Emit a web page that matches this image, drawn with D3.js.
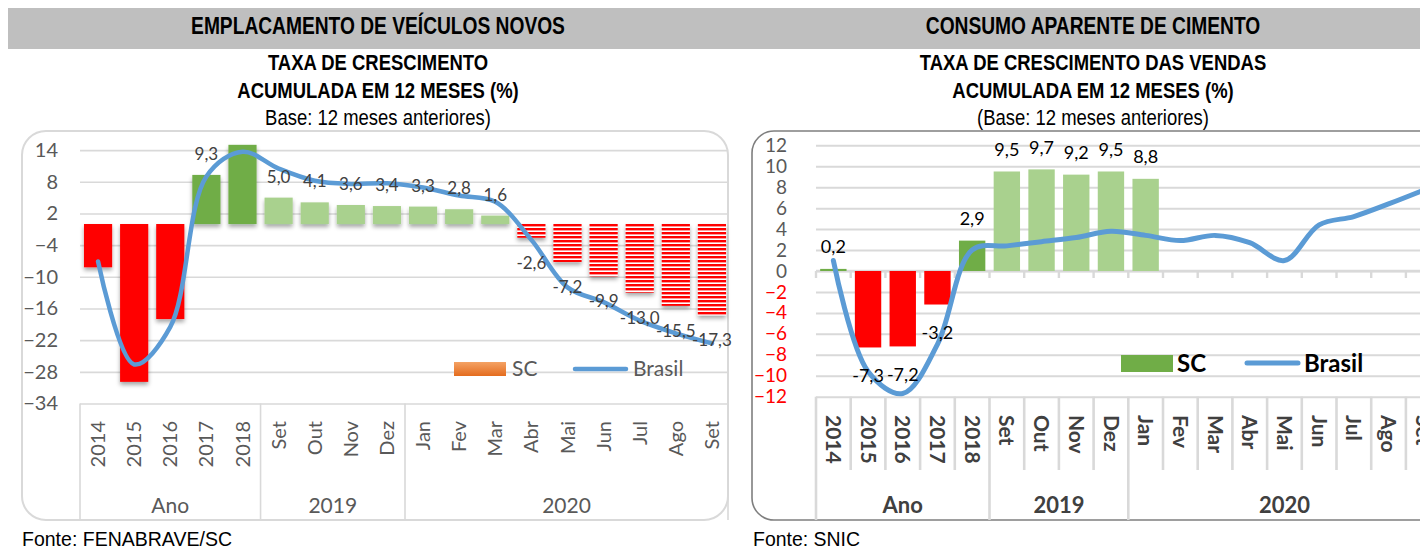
<!DOCTYPE html>
<html>
<head>
<meta charset="utf-8">
<script src="https://cdn.jsdelivr.net/npm/d3@7"></script>
<style>
    body { margin: 0; background: #fff; }
    svg { display: block; }
</style>
</head>
<body>
<svg id="chart" width="1420" height="549"></svg>
<script>
// Categories (same axis on both charts)
const categories = ["2014", "2015", "2016", "2017", "2018", "Set", "Out", "Nov", "Dez",
    "Jan", "Fev", "Mar", "Abr", "Mai", "Jun", "Jul", "Ago", "Set"];
const groupLabels = ["Ano", "2019", "2020"];
const groupSizes = [5, 4, 9];

// Emplacamento de veículos novos - SC (bars) and Brasil (line)
const vehSC = [-8.2, -29.9, -18.0, 9.3, 15.0, 5.0, 4.1, 3.6, 3.4, 3.3, 2.8, 1.6,
    -2.6, -7.2, -9.9, -13.0, -15.5, -17.3];
const vehLabels = [null, null, null, 9.3, null, 5.0, 4.1, 3.6, 3.4, 3.3, 2.8, 1.6,
    -2.6, -7.2, -9.9, -13.0, -15.5, -17.3];
const vehBrasil = [-7.1, -26.6, -19.5, 9.0, 13.7, 10.5, 8.2, 7.6, 7.7, 6.9, 5.4, 4.2,
    -3.0, -12.0, -14.8, -18.3, -20.7, -22.6];
const vehTicks = d3.range(-34, 15, 6);

// Consumo aparente de cimento - SC (bars) and Brasil (line)
const cimSC = [0.2, -7.3, -7.2, -3.2, 2.9, 9.5, 9.7, 9.2, 9.5, 8.8];
const cimBrasil = [1.0, -9.6, -11.7, -7.0, 2.0, 2.4, 2.8, 3.2, 3.8, 3.4, 2.9, 3.4,
    2.7, 1.0, 4.4, 5.2, 6.4, 7.7];
const cimTicks = d3.range(-12, 13, 2);

const svg = d3.select("#chart");
const BODY = "Lato, 'Open Sans', sans-serif";
const TITLE = "'Liberation Sans', Arial, sans-serif";

const fmt = v => d3.format(".1f")(v).replace(".", ",").replace("\u2212", "-");

// group of each category index
const groupOf = [];
groupSizes.forEach((n, g) => { for (let k = 0; k < n; k++) groupOf.push(g); });
const groupStart = d3.cumsum([0].concat(groupSizes));

// defs: hatch pattern, shadow, legend gradient
const defs = svg.append("defs");
const hatch = defs.append("pattern")
    .attr("id", "hatch")
    .attr("patternUnits", "userSpaceOnUse")
    .attr("width", 8).attr("height", 4);
hatch.append("rect").attr("width", 8).attr("height", 4).attr("fill", "#fff");
hatch.append("rect").attr("width", 8).attr("height", 2.4).attr("fill", "#ff0000");

defs.append("filter").attr("id", "shadow")
    .attr("x", "-20%").attr("y", "-20%").attr("width", "140%").attr("height", "140%")
    .append("feDropShadow")
    .attr("dx", 0).attr("dy", 3).attr("stdDeviation", 2)
    .attr("flood-color", "#000").attr("flood-opacity", 0.35);

let grad = defs.append("linearGradient").attr("id", "orange")
    .attr("x1", 0).attr("y1", 0).attr("x2", 0).attr("y2", 1);
grad.append("stop").attr("offset", "0%").attr("stop-color", "#f4a264");
grad.append("stop").attr("offset", "100%").attr("stop-color", "#e46c1e");

// Top banner
svg.append("rect")
    .attr("x", 8).attr("y", 8).attr("width", 1412).attr("height", 41)
    .attr("fill", "#bfbfbf");

// Arial Narrow look: Liberation Sans squeezed horizontally
function narrowText(x, y, txt, size, weight, sx) {
    svg.append("g")
        .attr("transform", "translate(" + x + "," + y + ") scale(" + sx + ",1)")
        .append("text")
        .attr("text-anchor", "middle")
        .style("font-family", TITLE)
        .style("font-size", size + "px")
        .style("font-weight", weight)
        .attr("fill", "#000")
        .text(txt);
}

// Titles
narrowText(378, 34, "EMPLACAMENTO DE VEÍCULOS NOVOS", 24, "bold", 0.8);
narrowText(378, 70, "TAXA DE CRESCIMENTO", 22, "bold", 0.84);
narrowText(378, 98, "ACUMULADA EM 12 MESES (%)", 22, "bold", 0.84);
narrowText(378, 125, "Base: 12 meses anteriores)", 22, "normal", 0.84);

narrowText(1093, 34, "CONSUMO APARENTE DE CIMENTO", 24, "bold", 0.8);
narrowText(1093, 70, "TAXA DE CRESCIMENTO DAS VENDAS", 22, "bold", 0.84);
narrowText(1093, 98, "ACUMULADA EM 12 MESES (%)", 22, "bold", 0.84);
narrowText(1093, 125, "(Base: 12 meses anteriores)", 22, "normal", 0.84);

// Sources
svg.append("text").attr("x", 22).attr("y", 546)
    .attr("textLength", 210).attr("lengthAdjust", "spacingAndGlyphs")
    .style("font-family", TITLE).style("font-size", "21px")
    .text("Fonte: FENABRAVE/SC");
svg.append("text").attr("x", 753).attr("y", 546)
    .attr("textLength", 107).attr("lengthAdjust", "spacingAndGlyphs")
    .style("font-family", TITLE).style("font-size", "21px")
    .text("Fonte: SNIC");

drawVeiculos();
drawCimento();

function drawVeiculos() {
    const g = svg.append("g");
    const left = 80, right = 730, top = 150.1, bottom = 403.5;

    // frame
    g.append("rect")
        .attr("x", 22).attr("y", 131).attr("width", 706).attr("height", 389)
        .attr("rx", 24)
        .attr("fill", "#fff").attr("stroke", "#d9d9d9").attr("stroke-width", 2);

    let x = d3.scaleBand()
        .domain(d3.range(categories.length))
        .range([left, right])
        .paddingInner(0.22).paddingOuter(0.11);
    let y = d3.scaleLinear().domain([-34, 14]).range([bottom, top]);

    // gridlines
    g.append("g")
        .attr("transform", "translate(" + left + ",0)")
        .call(d3.axisLeft(y).tickValues(vehTicks).tickSize(-(728 - left)).tickFormat(""))
        .call(a => a.select(".domain").remove())
        .selectAll("line").attr("stroke", "#d9d9d9").attr("stroke-width", 1.6);

    // y labels
    g.append("g")
        .attr("transform", "translate(" + left + ",0)")
        .call(d3.axisLeft(y).tickValues(vehTicks).tickSize(0).tickPadding(22))
        .call(a => a.select(".domain").remove())
        .selectAll("text")
        .style("font-family", BODY).style("font-size", "20px").attr("fill", "#595959");

    // category group separators
    let sepX = groupStart.map(i => i < categories.length ? x(i) - x.step() * x.paddingOuter() : right);
    sepX[sepX.length - 1] = 728;
    g.selectAll(".sep").data(sepX).enter().append("line")
        .attr("x1", d => d).attr("x2", d => d)
        .attr("y1", bottom).attr("y2", 520)
        .attr("stroke", "#d9d9d9").attr("stroke-width", 1.6);

    // category labels
    g.selectAll(".cat").data(categories).enter().append("text")
        .attr("transform", (d, i) => "translate(" + (x(i) + x.bandwidth() / 2) + ",421) rotate(-90)")
        .attr("text-anchor", "end").attr("dy", "0.35em")
        .style("font-family", BODY).style("font-size", "20px").attr("fill", "#595959")
        .text(d => d);

    g.selectAll(".grp").data(groupLabels).enter().append("text")
        .attr("x", (d, k) => (sepX[k] + sepX[k + 1]) / 2)
        .attr("y", 513)
        .attr("text-anchor", "middle")
        .style("font-family", BODY).style("font-size", "21px").attr("fill", "#595959")
        .text(d => d);

    // bars
    g.append("g").attr("filter", "url(#shadow)")
        .selectAll("rect").data(vehSC).enter().append("rect")
        .attr("x", (d, i) => x(i))
        .attr("width", x.bandwidth())
        .attr("y", d => y(Math.max(0, d)))
        .attr("height", d => Math.abs(y(d) - y(0)))
        .attr("fill", (d, i) => {
            if (d < 0) return groupOf[i] === 2 ? "url(#hatch)" : "#ff0000";
            return groupOf[i] === 0 ? "#70ad47" : "#a9d18e";
        });

    // Brasil line
    let line = d3.line()
        .x((d, i) => x(i) + x.bandwidth() / 2)
        .y(d => y(d))
        .curve(d3.curveCatmullRom.alpha(0.5));
    g.append("path").datum(vehBrasil)
        .attr("d", line)
        .attr("fill", "none").attr("stroke", "#5b9bd5")
        .attr("stroke-width", 4.5).attr("stroke-linecap", "round");

    // data labels
    g.selectAll(".lbl").data(vehLabels).enter()
        .filter(d => d !== null)
        .append("text")
        .attr("x", d => x(vehLabels.indexOf(d)) + x.bandwidth() / 2)
        .attr("y", d => d >= 0 ? y(d) - 21 : y(d) + 25)
        .attr("dy", "0.35em")
        .attr("text-anchor", "middle")
        .style("font-family", BODY).style("font-size", "17px").attr("fill", "#404040")
        .text(d => fmt(d));

    // legend
    let lg = g.append("g");
    lg.append("rect").attr("x", 454).attr("y", 362).attr("width", 52).attr("height", 14)
        .attr("fill", "url(#orange)");
    lg.append("text").attr("x", 512).attr("y", 376)
        .style("font-family", BODY).style("font-size", "21px").attr("fill", "#595959")
        .text("SC");
    lg.append("line").attr("x1", 575).attr("x2", 626).attr("y1", 369).attr("y2", 369)
        .attr("stroke", "#5b9bd5").attr("stroke-width", 4.5).attr("stroke-linecap", "round");
    lg.append("text").attr("x", 633).attr("y", 376)
        .style("font-family", BODY).style("font-size", "21px").attr("fill", "#595959")
        .text("Brasil");
}

function drawCimento() {
    const g = svg.append("g");
    const left = 816, step = 34.7, top = 145.3, bottom = 396.7;
    const right = left + step * categories.length;

    // frame
    g.append("rect")
        .attr("x", 752).attr("y", 131).attr("width", 720).attr("height", 389)
        .attr("rx", 22)
        .attr("fill", "#fff").attr("stroke", "#7f7f7f").attr("stroke-width", 1.6);

    let x = d3.scaleBand()
        .domain(d3.range(categories.length))
        .range([left, right])
        .paddingInner(0.24).paddingOuter(0.12);
    let y = d3.scaleLinear().domain([-12, 12]).range([bottom, top]);
    let edge = i => left + x.step() * i;

    // gridlines
    g.append("g")
        .attr("transform", "translate(" + left + ",0)")
        .call(d3.axisLeft(y).tickValues(cimTicks).tickSize(-(right - left)).tickFormat(""))
        .call(a => a.select(".domain").remove())
        .selectAll("line").attr("stroke", "#d9d9d9").attr("stroke-width", 2);

    // y labels
    g.append("g")
        .attr("transform", "translate(" + left + ",0)")
        .call(d3.axisLeft(y).tickValues(cimTicks).tickSize(0).tickPadding(29))
        .call(a => a.select(".domain").remove())
        .selectAll("text")
        .style("font-family", BODY).style("font-size", "19px")
        .attr("fill", d => d < 0 ? "#ff0000" : "#595959");

    // zero axis with tick marks
    g.append("line").attr("x1", left).attr("x2", right)
        .attr("y1", y(0)).attr("y2", y(0))
        .attr("stroke", "#d9d9d9").attr("stroke-width", 2.4);
    g.selectAll(".zt").data(d3.range(categories.length + 1)).enter().append("line")
        .attr("x1", i => edge(i)).attr("x2", i => edge(i))
        .attr("y1", y(0)).attr("y2", y(0) + 7)
        .attr("stroke", "#d9d9d9").attr("stroke-width", 2.4);

    // category separators
    g.selectAll(".sep").data(d3.range(categories.length + 1)).enter().append("line")
        .attr("x1", i => edge(i)).attr("x2", i => edge(i))
        .attr("y1", bottom)
        .attr("y2", i => groupStart.includes(i) ? 520 : 470)
        .attr("stroke", "#d9d9d9").attr("stroke-width", 2.6);

    g.selectAll(".cat").data(categories).enter().append("text")
        .attr("transform", (d, i) => "translate(" + (x(i) + x.bandwidth() / 2) + ",415) rotate(90)")
        .attr("text-anchor", "start").attr("dy", "0.35em")
        .style("font-family", BODY).style("font-size", "21px").style("font-weight", "bold")
        .attr("fill", "#404040")
        .text(d => d);

    g.selectAll(".grp").data(groupLabels).enter().append("text")
        .attr("x", (d, k) => (edge(groupStart[k]) + edge(groupStart[k + 1])) / 2)
        .attr("y", 513)
        .attr("text-anchor", "middle")
        .style("font-family", BODY).style("font-size", "22px").style("font-weight", "bold")
        .attr("fill", "#404040")
        .text(d => d);

    // bars
    g.selectAll(".bar").data(cimSC).enter().append("rect")
        .attr("x", (d, i) => x(i))
        .attr("width", x.bandwidth())
        .attr("y", d => y(Math.max(0, d)))
        .attr("height", d => Math.max(1.5, Math.abs(y(d) - y(0))))
        .attr("fill", (d, i) => {
            if (d < 0) return "#ff0000";
            return groupOf[i] === 0 ? "#70ad47" : "#a9d18e";
        });

    // Brasil line
    let line = d3.line()
        .x((d, i) => x(i) + x.bandwidth() / 2)
        .y(d => y(d))
        .curve(d3.curveCatmullRom.alpha(0.5));
    g.append("path").datum(cimBrasil)
        .attr("d", line)
        .attr("fill", "none").attr("stroke", "#5b9bd5")
        .attr("stroke-width", 5).attr("stroke-linecap", "round");

    // data labels
    g.selectAll(".lbl").data(cimSC).enter().append("text")
        .attr("x", (d, i) => x(i) + x.bandwidth() / 2)
        .attr("y", d => d >= 0 ? y(d) - 22 : y(d) + 28)
        .attr("dy", "0.35em")
        .attr("text-anchor", "middle")
        .style("font-family", BODY).style("font-size", "18px").attr("fill", "#000")
        .text(d => fmt(d));

    // legend
    let lg = g.append("g");
    lg.append("rect").attr("x", 1121).attr("y", 355).attr("width", 52).attr("height", 17)
        .attr("fill", "#70ad47");
    lg.append("text").attr("x", 1177).attr("y", 372)
        .style("font-family", BODY).style("font-size", "24px").style("font-weight", "bold")
        .text("SC");
    lg.append("line").attr("x1", 1247).attr("x2", 1298).attr("y1", 363).attr("y2", 363)
        .attr("stroke", "#5b9bd5").attr("stroke-width", 5).attr("stroke-linecap", "round");
    lg.append("text").attr("x", 1304).attr("y", 372)
        .style("font-family", BODY).style("font-size", "24px").style("font-weight", "bold")
        .text("Brasil");
}
</script>
</body>
</html>
